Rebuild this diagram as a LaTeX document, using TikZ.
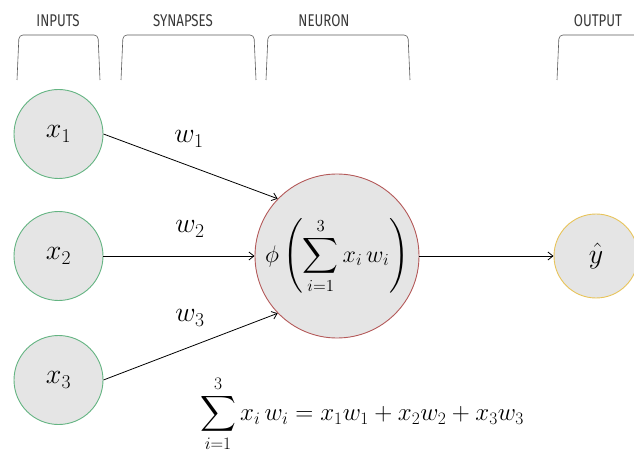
\RequirePackage{fix-cm}
\documentclass[tikz,border=0pt]{standalone}
\usepackage{fontspec}
\usepackage{amsmath}
\newfontfamily\labelfont[FakeStretch=0.78]{Fira Sans}
\usetikzlibrary{arrows.meta}
\definecolor{cfill}{RGB}{229,229,229}
\definecolor{cgreen}{RGB}{100,180,130}
\definecolor{cred}{RGB}{180,90,90}
\definecolor{cyellow}{RGB}{232,196,90}
\definecolor{cbrack}{RGB}{90,90,90}
\tikzset{
  unit/.style={circle, fill=cfill, line width=0.9pt, inner sep=0pt},
  inp/.style={unit, draw=cgreen, minimum size=89pt},
  neur/.style={unit, draw=cred, minimum size=164pt},
  outp/.style={unit, draw=cyellow, minimum size=84pt},
  conn/.style={line width=0.8pt, -{Straight Barb[length=5pt,width=8pt]}},
  head/.style={font=\labelfont\fontsize{17}{20}\selectfont, text=black!78},
  brack/.style={draw=cbrack, line width=0.6pt, rounded corners=4pt},
  big/.style={font=\fontsize{28}{32}\selectfont},
  mid/.style={font=\fontsize{24}{28}\selectfont},
  low/.style={font=\fontsize{25}{30}\selectfont},
}
\begin{document}
\begin{tikzpicture}[x=1pt,y=-1pt]
\useasboundingbox (0,0) rectangle (634,454);
% headers
\node[head] (hin) at (58,20.5) {INPUTS};
\node[head] (hsyn) at (183,20.5) {SYNAPSES};
\node[head] (hneu) at (324,20.5) {NEURON};
\node[head] (hout) at (598,20.5) {OUTPUT};
% brackets
\draw[brack] (17,80) -- (19,35) -- (98,35) -- (100,80);
\draw[brack] (121,80) -- (123,35) -- (254,35) -- (256,80);
\draw[brack] (266,80) -- (268,35) -- (408,35) -- (410,80);
\draw[brack] (557,80) -- (559,35) -- (650,35);
% nodes
\node[inp] (x1) at (58.5,134) {};
\node[inp] (x2) at (58.5,256) {};
\node[inp] (x3) at (58.5,380) {};
\node[big] (lx1) at (x1) {$x_1$};
\node[big] (lx2) at (x2) {$x_2$};
\node[big] (lx3) at (x3) {$x_3$};
\node[neur] (n) at (337,256) {};
\node[mid, inner sep=0pt] (ln) at (n) {$\displaystyle \phi\left(\sum_{i=1}^{3} x_i\, w_i\right)$};
\node[outp] (y) at (596,256) {};
\node[big] (ly) at (y) {$\hat{y}$};
% connectors
\draw[conn] (x1.east) -- (n.136);
\draw[conn] (x2.east) -- (n.west);
\draw[conn] (x3.east) -- (n.224);
\draw[conn] (n.east) -- (y.west);
% weights
\node[big] (w1) at (189,139) {$w_1$};
\node[big] (w2) at (190,229) {$w_2$};
\node[big] (w3) at (190,318) {$w_3$};
% formula
\node[low] (f) at (362,414) {$\displaystyle \sum_{i=1}^{3} x_i\, w_i = x_1w_1 + x_2w_2 + x_3w_3$};
\end{tikzpicture}
\end{document}
